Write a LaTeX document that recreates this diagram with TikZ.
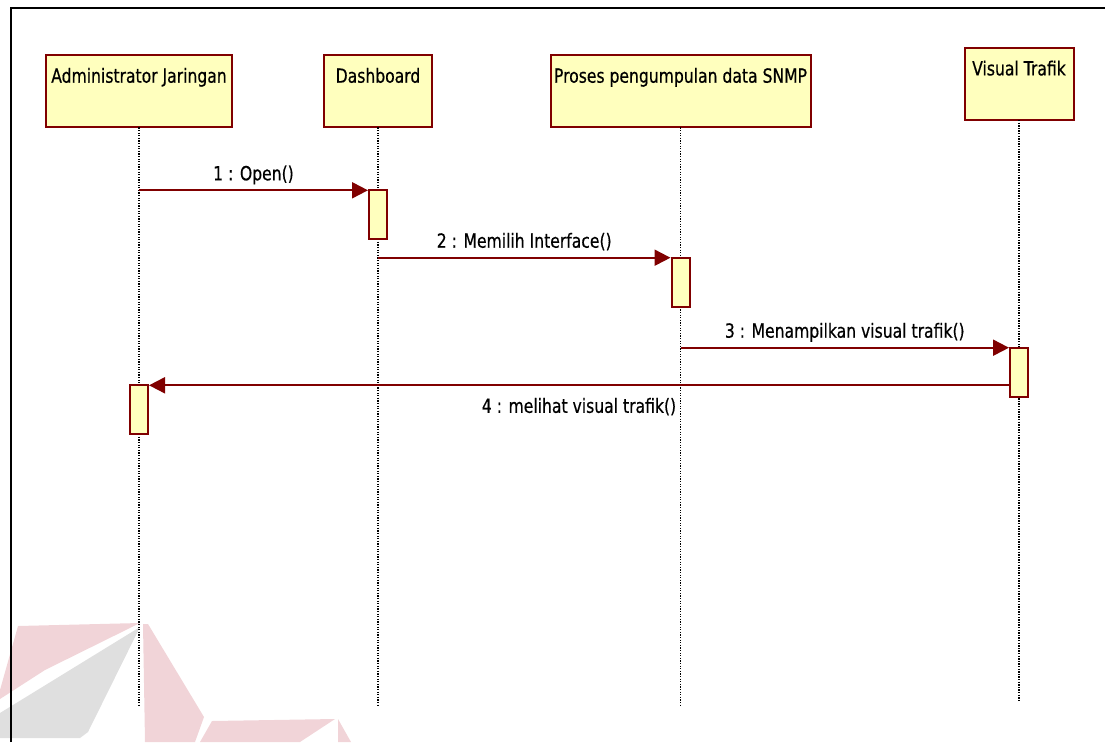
\documentclass[tikz,border=0pt]{standalone}
\usepackage{fontspec}
\setmainfont{DejaVu Sans}[FakeStretch=0.8,FakeBold=0.5]
\usetikzlibrary{arrows.meta}
\definecolor{umlred}{RGB}{128,0,0}
\definecolor{umlfill}{RGB}{255,255,190}
\definecolor{markpink}{RGB}{241,212,216}
\definecolor{markgrey}{RGB}{223,223,223}
\begin{document}
\begin{tikzpicture}[x=1pt,y=-1pt,
  font=\fontsize{19.5}{22}\selectfont,
  objbox/.style={draw=umlred, fill=umlfill, line width=2pt, inner sep=0pt, outer sep=0pt,
    text height=27.4pt, text depth=44.6pt, anchor=north},
  actbox/.style={draw=umlred, fill=umlfill, line width=2pt, inner sep=0pt,
    outer xsep=1pt, outer ysep=0pt, minimum width=18pt, minimum height=49pt, anchor=north},
  lifeline/.style={black, line width=1.3pt, dash pattern=on 1.3pt off 1.3pt},
  msg/.style={umlred, line width=2pt, -{Triangle[length=16pt,width=16pt]}},
  msglabel/.style={midway, anchor=base, inner sep=0pt, text=black},
  frameline/.style={black, line width=2pt},
  pinkmark/.style={fill=markpink, draw=none},
  greymark/.style={fill=markgrey, draw=none}]
\useasboundingbox (0,0) rectangle (1105,742);

% faint logo in the lower left corner
\fill[pinkmark] (18,626) -- (140,623) -- (45,670) -- (0,699) -- (0,690) -- cycle;
\fill[greymark] (140,627) -- (0,713) -- (0,738) -- (80,738) -- (88,732) -- cycle;
\fill[pinkmark] (143,624) -- (148,624) -- (204,717) -- (195,742) -- (145,742) -- cycle;
\fill[pinkmark] (212,721) -- (335,719) -- (300,742) -- (200,742) -- cycle;
\fill[pinkmark] (338,719) -- (351,742) -- (338,742) -- cycle;

% frame
\draw[frameline] (11,742) -- (11,8) -- (1105,8);

% objects
\node[objbox, minimum width=186pt] (admin)  at (139,55.3)   {Administrator Jaringan};
\node[objbox, minimum width=108pt] (dash)   at (378,55.3)   {Dashboard};
\node[objbox, minimum width=260pt] (proses) at (680.5,55.3) {Proses pengumpulan data SNMP};
\node[objbox, minimum width=109pt] (visual) at (1019,48)    {Visual Trafik};

% lifelines
\coordinate (adminEnd)  at (139,707);
\coordinate (dashEnd)   at (378,707);
\coordinate (prosesEnd) at (680.5,707);
\coordinate (visualEnd) at (1019,700);
\draw[lifeline] (admin.south)  -- (adminEnd);
\draw[lifeline] (dash.south)   -- (dashEnd);
\draw[lifeline] (proses.south) -- (prosesEnd);
\draw[lifeline] (visual.south) -- (visualEnd);

% activations
\node[actbox] (act1) at (378,190.3)   {};
\node[actbox] (act2) at (680.5,257.7) {};
\node[actbox] (act3) at (1019,347.7)  {};
\node[actbox] (act4) at (139,385.3)   {};

% messages
\draw[msg] (admin |- act1.north) -- (act1.north west)
  node[msglabel, yshift=10pt] {1 : Open()};
\draw[msg] (dash |- act2.north) -- (act2.north west)
  node[msglabel, yshift=10pt] {2 : Memilih Interface()};
\draw[msg] (proses |- act3.north) -- (act3.north west)
  node[msglabel, yshift=10pt] {3 : Menampilkan visual trafik()};
\draw[msg] (act3.west |- act4.north) -- (act4.north east)
  node[msglabel, yshift=-27.5pt] {4 : melihat visual trafik()};
\end{tikzpicture}
\end{document}
